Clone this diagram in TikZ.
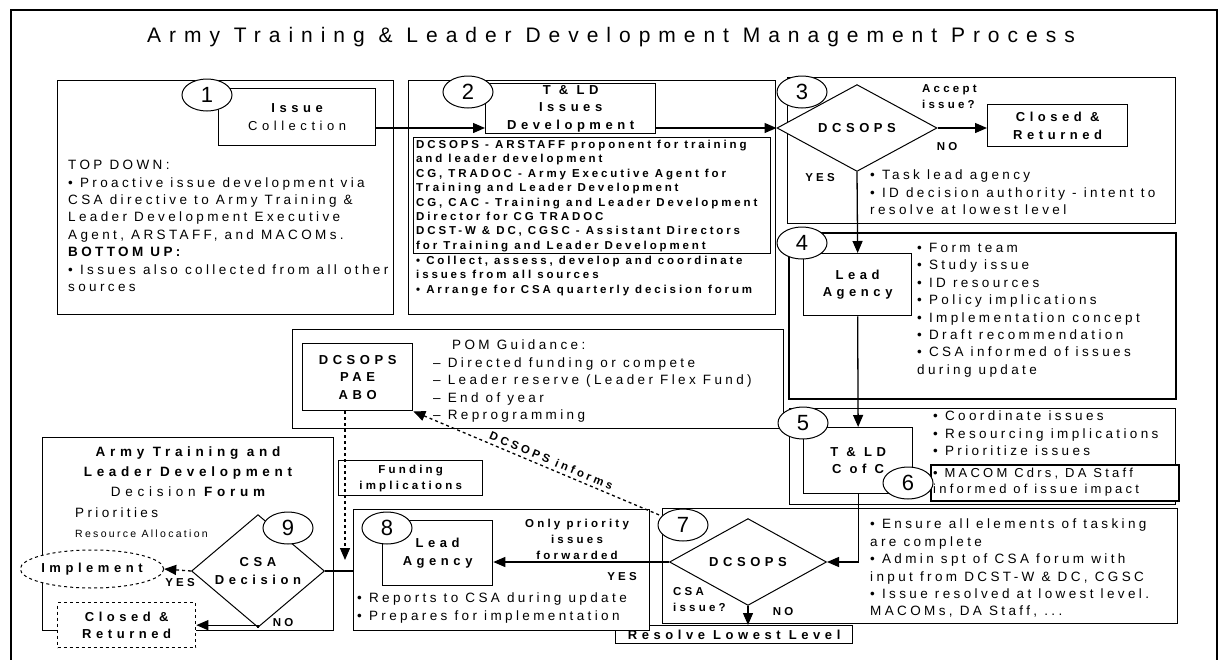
\documentclass[tikz,border=0pt]{standalone}
\usepackage{fontspec}
\setmainfont{Liberation Sans}
\usepackage{tikz}
\usetikzlibrary{shapes.geometric,arrows.meta,calc}
\newcommand{\titlefont}{\fontsize{21}{25}\selectfont\addfontfeature{LetterSpace=38}}
\newcommand{\bodyfont}{\fontsize{13.5}{17.4}\selectfont\addfontfeature{LetterSpace=25}}
\newcommand{\densefont}{\bfseries\fontsize{11.5}{14.4}\selectfont\addfontfeature{LetterSpace=25}}
\newcommand{\labelfont}{\bfseries\fontsize{13}{17.5}\selectfont\addfontfeature{LetterSpace=35}}
\newcommand{\smallfont}{\bfseries\fontsize{11.5}{16}\selectfont\addfontfeature{LetterSpace=28}}

\begin{document}
\begin{tikzpicture}[x=1pt, y=-1pt,
    box/.style={draw, line width=1.3pt, fill=white, anchor=north west, inner sep=0pt},
    num/.style={ellipse, draw, fill=white, line width=1pt, minimum width=50pt, minimum height=32pt, inner sep=0pt, font=\fontsize{22}{22}\selectfont},
    dia/.style={diamond, draw, fill=white, line width=1pt, inner sep=0pt, align=center, font=\labelfont},
    txt/.style={anchor=north west, inner sep=0pt, align=left, font=\bodyfont},
    lbl/.style={inner sep=0pt, align=left, font=\smallfont},
    arr/.style={line width=1.3pt, -{Triangle[length=12pt,width=10pt]}}]
  \useasboundingbox (0,0) rectangle (1221,659);
  \draw[line width=2.5pt] (11,680) -- (11,10) -- (1217,10) -- (1217,680);
  \node[font=\titlefont] (title) at (611,37) {Army Training \& Leader Development Management Process};

  % 1 issue collection
  \node[box, minimum width=336, minimum height=234] (b1) at (57,80) {};
  \node[box, minimum width=157, minimum height=57, align=center, font=\labelfont] (ic) at (218,88) {Issue\\{\mdseries Collection}};
  \node[txt] (t1) at (68,160) {TOP DOWN:\\• Proactive issue development via\\CSA directive to Army Training \&\\Leader Development Executive\\Agent, ARSTAFF, and MACOMs.\\\textbf{BOTTOM UP:}\\• Issues also collected from all other\\sources};

  % 2 issues development
  \node[box, minimum width=367, minimum height=234] (b2) at (408,80) {};
  \node[box, minimum width=170, minimum height=50, align=center, font=\labelfont] (t2) at (485,83) {T \& LD\\Issues\\Development};
  \node[box, minimum width=357, minimum height=116] (in2) at (413,137) {};
  \node[txt, font=\densefont] (t2a) at (416,140) {DCSOPS - ARSTAFF proponent for training\\and leader development\\CG, TRADOC - Army Executive Agent for\\Training and Leader Development\\CG, CAC - Training and Leader Development\\Director for CG TRADOC\\DCST-W \& DC, CGSC - Assistant Directors\\for Training and Leader Development};
  \node[txt, font=\densefont] (t2b) at (416,256) {• Collect, assess, develop and coordinate\\issues from all sources\\• Arrange for CSA quarterly decision forum};

  % 3 accept issue
  \node[box, minimum width=388, minimum height=146] (b3) at (787,77) {};
  \node[dia, minimum width=160, minimum height=75] (d3) at (857,128) {DCSOPS};
  \node[box, minimum width=140, minimum height=42, align=center, font=\labelfont] (cl3) at (987,104) {Closed \&\\Returned};
  \node[lbl, anchor=north west] (acc) at (922,84) {Accept\\issue?};
  \node[lbl] (no3) at (947,147) {NO};
  \node[lbl] (yes3) at (820,178) {YES};
  \node[txt] (t3) at (870,170) {• Task lead agency\\• ID decision authority - intent to\\resolve at lowest level};

  % 4 lead agency
  \node[box, line width=2.2pt, minimum width=387, minimum height=166] (b4) at (788,232) {};
  \node[box, minimum width=108, minimum height=62, align=center, font=\labelfont] (la4) at (803,253) {Lead\\Agency};
  \node[txt] (t4) at (917,243) {• Form team\\• Study issue\\• ID resources\\• Policy implications\\• Implementation concept\\• Draft recommendation\\• CSA informed of issues\\during update};

  % POM guidance
  \node[box, minimum width=491, minimum height=99] (pom) at (292,329) {};
  \node[box, minimum width=110, minimum height=67, align=center, font=\labelfont] (pae) at (302,343) {DCSOPS\\PAE\\ABO};
  \node[txt] (tpom) at (433,340) {\hspace*{19pt}POM Guidance:\\– Directed funding or compete\\– Leader reserve (Leader Flex Fund)\\– End of year\\– Reprogramming};
  \node[box, minimum width=144, minimum height=35, align=center, font=\smallfont] (fund) at (338,460) {Funding\\implications};

  % 5 and 6 coordination
  \node[box, minimum width=386, minimum height=96] (b5) at (789,408) {};
  \node[box, minimum width=109, minimum height=66, align=center, font=\labelfont] (cc5) at (803,427) {T \& LD\\C of C};
  \node[txt] (t5) at (933,411) {• Coordinate issues\\• Resourcing implications\\• Prioritize issues};
  \node[box, line width=1.6pt, minimum width=248, minimum height=36] (mac) at (930,464) {};
  \node[txt, font=\fontsize{13}{16}\selectfont\addfontfeature{LetterSpace=25}] (tmac) at (933,468) {• MACOM Cdrs, DA Staff\\informed of issue impact};

  % 7 CSA issue
  \node[box, minimum width=515, minimum height=115] (b7) at (662,508) {};
  \node[dia, minimum width=157, minimum height=74] (d7) at (748,562) {DCSOPS};
  \node[txt] (t7) at (870,519) {• Ensure all elements of tasking\\are complete\\• Admin spt of CSA forum with\\input from DCST-W \& DC, CGSC\\• Issue resolved at lowest level.\\MACOMs, DA Staff, ...};
  \node[lbl, anchor=north west] (csa7) at (673,587) {CSA\\issue?};
  \node[lbl] (no7) at (783,612) {NO};
  \node[box, minimum width=237, minimum height=18, font=\labelfont] (rs) at (615,625) {Resolve Lowest Level};

  % 8 lead agency
  \node[box, minimum width=296, minimum height=121] (b8) at (353,509) {};
  \node[box, minimum width=110, minimum height=65, align=center, font=\labelfont] (la8) at (382,520) {Lead\\Agency};
  \node[lbl, align=center] (fwd) at (577,539) {Only priority\\issues\\forwarded};
  \node[lbl] (yes8) at (622,577) {YES};
  \node[txt] (t8) at (357,593) {• Reports to CSA during update\\• Prepares for implementation};

  % 9 decision forum
  \node[box, minimum width=291, minimum height=193] (b9) at (42,437) {};
  \node[align=center, font=\labelfont\fontsize{13.5}{20}\selectfont] (f9) at (188,472) {Army Training and\\Leader Development\\{\mdseries Decision} Forum};
  \node[txt] (pr9) at (75,508) {Priorities};
  \node[txt, font=\fontsize{10.5}{12}\selectfont\addfontfeature{LetterSpace=22}] (ra9) at (75,530) {Resource Allocation};
  \node[dia, minimum width=133, minimum height=66] (d9) at (258,571) {CSA\\Decision};
  \node[ellipse, draw, dashed, fill=white, line width=1pt, minimum width=135, minimum height=38, inner sep=0pt, font=\labelfont] (imp) at (92,569) {Implement};
  \node[lbl] (yes9) at (180,583) {YES};
  \node[box, dashed, minimum width=138, minimum height=45, align=center, font=\labelfont] (cl9) at (57,602) {Closed \&\\Returned};
  \node[lbl] (no9) at (283,623) {NO};

  % connectors
  \coordinate (a1) at (0,128);
  \coordinate (jn) at (345,560);
  \draw[arr] (ic.east |- a1) -- (t2.west |- a1);
  \draw[arr] (t2.east |- a1) -- (d3.west);
  \draw[arr] (d3.east) -- (cl3.west |- d3.east);
  \draw[arr] (d3.south) -- (la4.north);
  \draw[arr] (la4.south) -- (cc5.north);
  \draw[arr] (cc5.south) -- (cc5.south |- d7.east) -- (d7.east);
  \draw[arr] (d7.south) -- (d7.south |- rs.north);
  \draw[arr] (d7.west) -- (la8.east |- d7.west);
  \draw[line width=1.3pt] (b8.west |- d9.east) -- (d9.east);
  \draw[arr, dashed] (pae.south -| jn) -- (jn);
  \draw[arr, dashed] (d9.west) -- (imp.east);
  \draw[arr] (d9.south) -- (d9.south |- cl9.east) -- (cl9.east);
  \draw[line width=1.3pt, dashed, {Triangle[length=12pt,width=10pt]}-] (pae.south east) -- node[sloped, above, font=\smallfont] (inf) {DCSOPS informs} (683,525);

  % step numbers
  \node[num] (n1) at (207,95) {1};
  \node[num] (n2) at (468,92) {2};
  \node[num] (n3) at (802,92) {3};
  \node[num] (n4) at (802,243) {4};
  \node[num] (n5) at (803,423) {5};
  \node[num] (n6) at (908,483) {6};
  \node[num] (n7) at (683,525) {7};
  \node[num] (n8) at (387,528) {8};
  \node[num] (n9) at (288,528) {9};
\end{tikzpicture}
\end{document}
